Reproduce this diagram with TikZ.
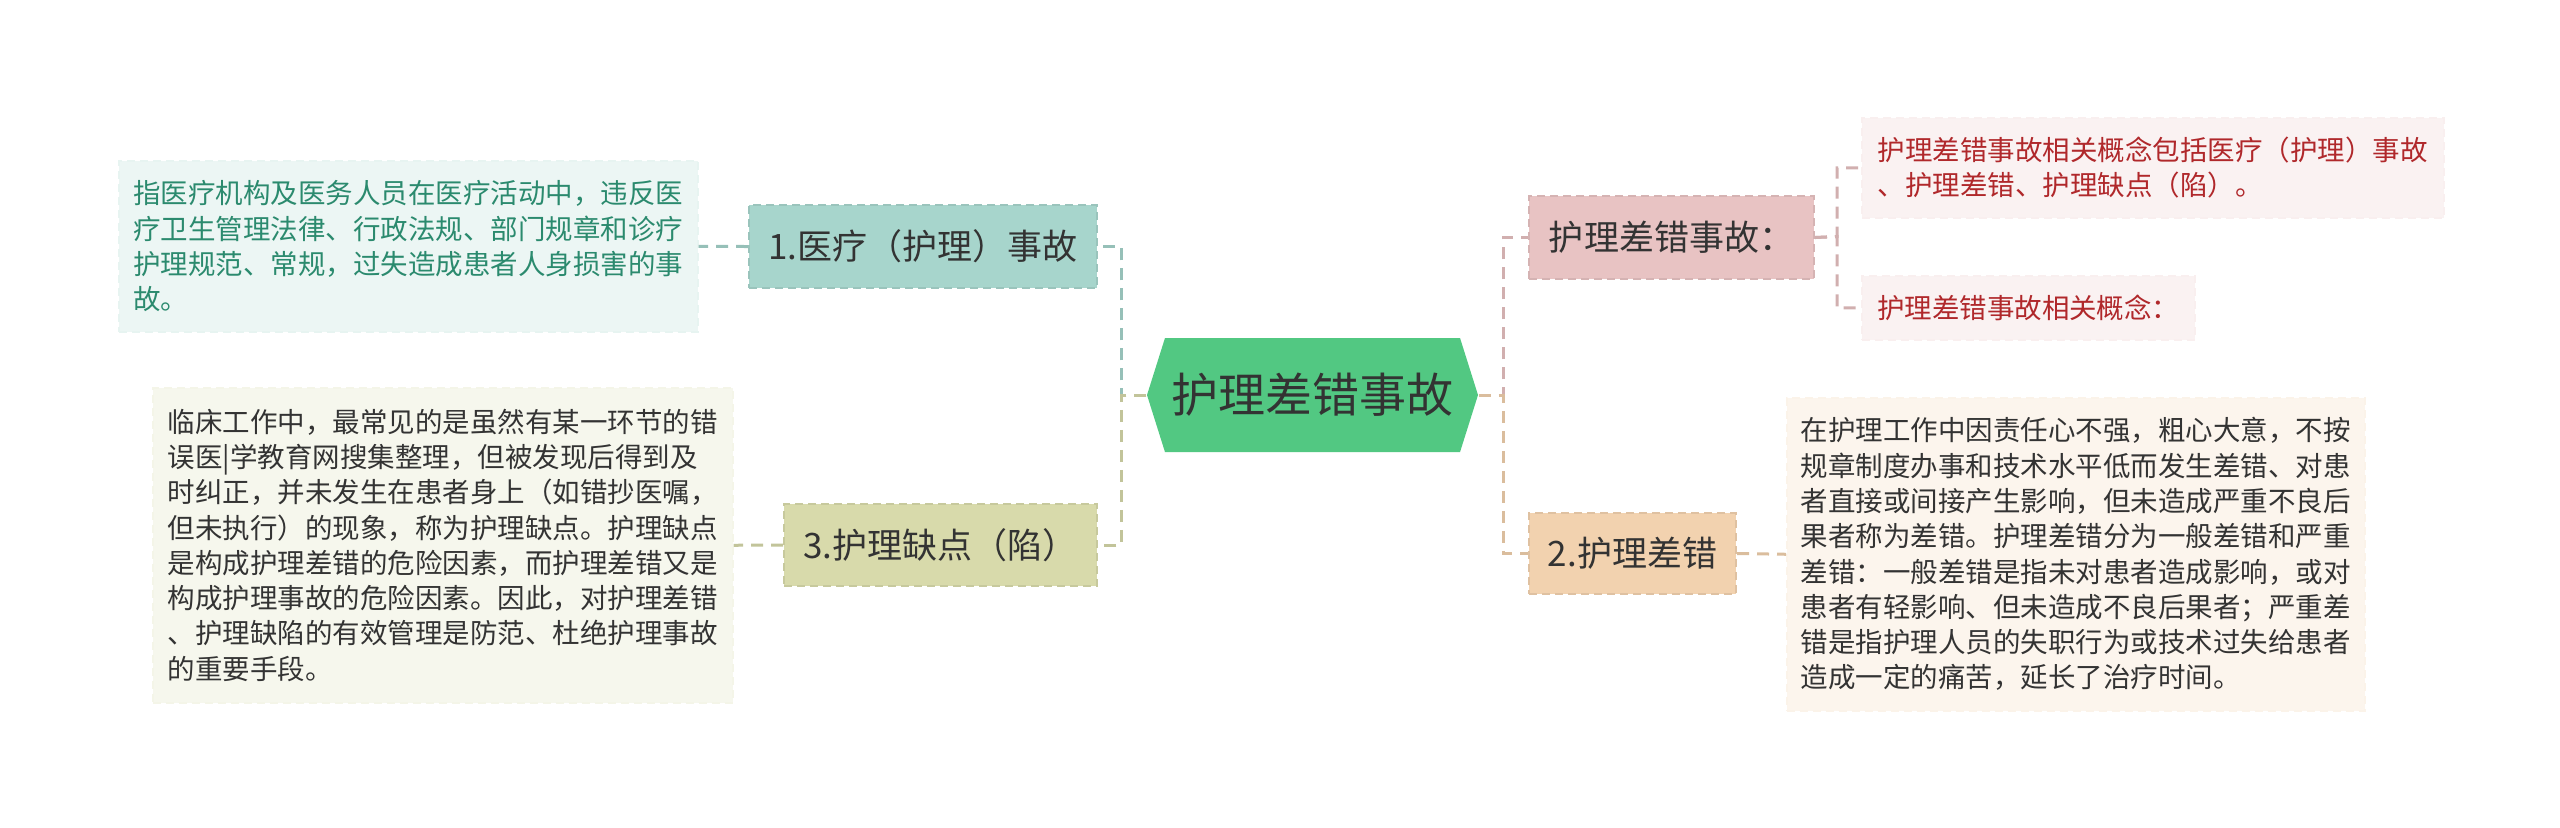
\documentclass[tikz,border=0pt]{standalone}
\usepackage{fontspec}
\setmainfont{Noto Sans CJK SC}
\usepackage{xcolor}
\usepackage{tikz}
\usetikzlibrary{positioning, calc, shapes.symbols}
\definecolor{root}{HTML}{52C882}
\definecolor{yiliao}{HTML}{A7D5CC}
\definecolor{quedian}{HTML}{D8DAAB}
\definecolor{shigu}{HTML}{E8C3C3}
\definecolor{chacuo}{HTML}{F2D2AF}
\definecolor{ink}{HTML}{333333}
\definecolor{tealtext}{HTML}{2B8A6E}
\definecolor{redtext}{HTML}{B0282B}

\begin{document}
\begin{tikzpicture}[
    font=\fontsize{9.96}{12}\selectfont,
    topic/.style 2 args={fill=#1, draw=#1!92!black, dash pattern=on 0.8mm off 0.5mm,
        line width=0.2mm, text=ink, minimum width=#2, minimum height=8.3mm,
        inner sep=0pt},
    leaf/.style 2 args={fill=#1!22, draw=#1!27, dash pattern=on 0.8mm off 0.5mm,
        line width=0.15mm, text=ink, minimum width=#2, align=left, inner sep=0pt,
        font=\fontsize{7.82}{10.04}\selectfont},
    branch/.style={draw=#1!90!black, line width=0.3mm,
        dash pattern=on 1.2mm off 0.8mm},
  ]
  \useasboundingbox (0mm,0mm) rectangle (256mm,-82.7mm);
  \node[signal, signal to=west and east, signal pointer angle=145, fill=root,
    minimum width=33.1mm, minimum height=11.4mm, inner sep=0pt, text=ink,
    font=\fontsize{13.37}{16}\selectfont] (root) at (131.25mm,-39.5mm) {护理差错事故};
  \coordinate (ltrunk) at (112.1mm,-39.5mm);
  \coordinate (rtrunk) at (150.3mm,-39.5mm);
  \node[topic={yiliao}{34.8mm}, anchor=north west] (yiliao_shigu) at (74.8mm,-20.4mm) {1.医疗（护理）事故};
  \node[topic={quedian}{31.3mm}, minimum height=8.2mm, anchor=north west] (huli_quedian) at (78.3mm,-50.3mm) {3.护理缺点（陷）};
  \node[topic={shigu}{28.5mm}, anchor=north west] (shigu_gainian) at (152.8mm,-19.5mm) {护理差错事故：};
  \node[topic={chacuo}{20.7mm}, minimum height=8.1mm, anchor=north west] (huli_chacuo) at (152.8mm,-51.2mm) {2.护理差错};
  \node[leaf={yiliao}{57.9mm}, minimum height=17.1mm, text=tealtext, anchor=north west] (yiliao_desc) at (11.8mm,-16.0mm) {指医疗机构及医务人员在医疗活动中，违反医\\疗卫生管理法律、行政法规、部门规章和诊疗\\护理规范、常规，过失造成患者人身损害的事\\故。};
  \node[leaf={quedian}{58.0mm}, minimum height=31.5mm, anchor=north west] (quedian_desc) at (15.2mm,-38.7mm) {临床工作中，最常见的是虽然有某一环节的错\\误医|学教育网搜集整理，但被发现后得到及\\时纠正，并未发生在患者身上（如错抄医嘱，\\但未执行）的现象，称为护理缺点。护理缺点\\是构成护理差错的危险因素，而护理差错又是\\构成护理事故的危险因素。因此，对护理差错\\、护理缺陷的有效管理是防范、杜绝护理事故\\的重要手段。};
  \node[leaf={shigu}{58.2mm}, minimum height=10.0mm, text=redtext, anchor=north west] (gainian_full) at (186.1mm,-11.7mm) {护理差错事故相关概念包括医疗（护理）事故\\、护理差错、护理缺点（陷）。};
  \node[leaf={shigu}{33.3mm}, minimum height=6.4mm, text=redtext, anchor=north west] (gainian_short) at (186.1mm,-27.5mm) {护理差错事故相关概念：};
  \node[leaf={chacuo}{57.8mm}, minimum height=31.3mm, anchor=north west] (chacuo_desc) at (178.6mm,-39.7mm) {在护理工作中因责任心不强，粗心大意，不按\\规章制度办事和技术水平低而发生差错、对患\\者直接或间接产生影响，但未造成严重不良后\\果者称为差错。护理差错分为一般差错和严重\\差错：一般差错是指未对患者造成影响，或对\\患者有轻影响、但未造成不良后果者；严重差\\错是指护理人员的失职行为或技术过失给患者\\造成一定的痛苦，延长了治疗时间。};
  \coordinate (strunk) at (183.7mm,-23.65mm);
  \draw[branch=yiliao] (root.west) -- (ltrunk) |- (yiliao_shigu.east);
  \draw[branch=quedian] (root.west) -- (ltrunk) |- (huli_quedian.east);
  \draw[branch=shigu] (root.east) -- (rtrunk) |- (shigu_gainian.west);
  \draw[branch=chacuo] (root.east) -- (rtrunk) |- (huli_chacuo.west);
  \draw[branch=yiliao] (yiliao_shigu.west) -- (yiliao_desc.east);
  \draw[branch=quedian] (huli_quedian.west) -- (quedian_desc.east);
  \draw[branch=chacuo] (huli_chacuo.east) -- (chacuo_desc.west);
  \draw[branch=shigu] (shigu_gainian.east) -- (strunk) |- (gainian_full.west);
  \draw[branch=shigu] (shigu_gainian.east) -- (strunk) |- (gainian_short.west);
\end{tikzpicture}
\end{document}
